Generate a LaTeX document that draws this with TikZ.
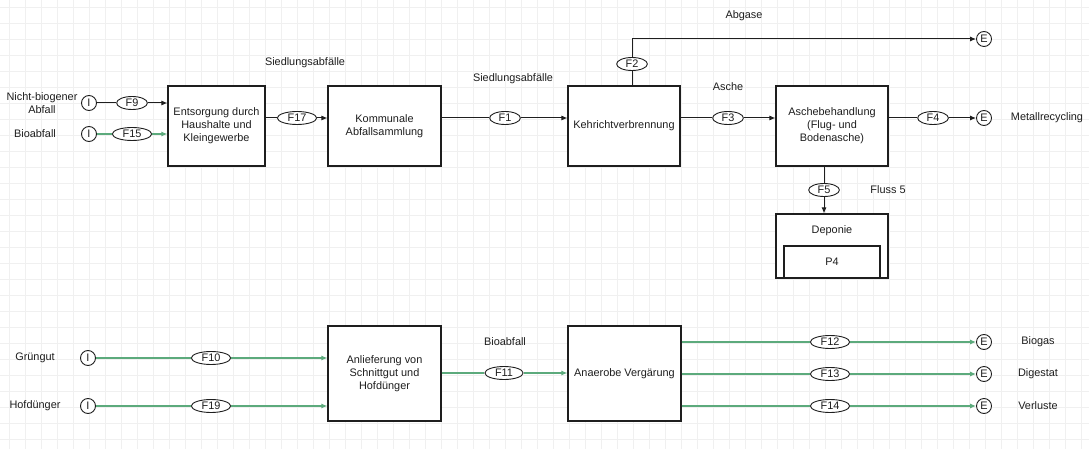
\documentclass[tikz,border=0pt]{standalone}
\usepackage{fontspec}
\setmainfont{Liberation Sans}
\usetikzlibrary{arrows.meta,shapes.geometric}
\definecolor{gridc}{RGB}{240,240,240}
\definecolor{flowg}{RGB}{92,170,124}
\definecolor{ink}{RGB}{30,30,30}
\begin{document}
\begin{tikzpicture}[x=1pt,y=-1pt,
  font=\fontsize{10.9}{13}\selectfont,
  proc/.style={draw=ink, line width=1.1pt, fill=white, align=center, inner sep=0pt, text=ink},
  flowtag/.style={ellipse, draw=ink, line width=0.9pt, fill=white, inner xsep=4.5pt, inner ysep=0.5pt, minimum height=13pt, text=ink},
  port/.style={circle, draw=ink, line width=0.9pt, fill=white, minimum size=15pt, inner sep=0pt, text=ink},
  lbl/.style={align=center, text=ink, inner sep=0pt},
  conn/.style={draw=ink, line width=1pt},
  bio/.style={draw=flowg, line width=1.2pt},
  tip/.style={-{Latex[length=6pt,width=5pt]}}]

% canvas and background grid
\fill[white] (0,0) rectangle (1089,449);
\useasboundingbox (0,0) rectangle (1089,449);
\foreach \x in {9,25,...,1089} \draw[gridc, line width=0.7pt] (\x,0) -- (\x,449);
\foreach \y in {7,23,...,449} \draw[gridc, line width=0.7pt] (0,\y) -- (1089,\y);

% processes, upper chain
\node[proc, minimum width=97pt, minimum height=80pt] (ent) at (216.5,126) {Entsorgung durch\\Haushalte und\\Kleingewerbe};
\node[proc, minimum width=113pt, minimum height=80pt] (kom) at (384.5,126) {Kommunale\\Abfallsammlung};
\node[proc, minimum width=112pt, minimum height=80pt] (kvb) at (624,126) {Kehrichtverbrennung};
\node[proc, minimum width=112pt, minimum height=80pt] (asb) at (832,126) {Aschebehandlung\\(Flug- und\\Bodenasche)};
\node[proc, minimum width=112pt, minimum height=64pt] (dep) at (832,246) {};
\node[lbl] (deptitle) at (832,231) {Deponie};
\node[proc, minimum width=96pt, minimum height=32pt] (p4) at (832,262) {P4};

% processes, lower chain
\node[proc, minimum width=113pt, minimum height=95pt] (anl) at (384.5,373.5) {Anlieferung von\\Schnittgut und\\Hofdünger};
\node[proc, minimum width=113pt, minimum height=95pt] (ana) at (624.5,373.5) {Anaerobe Vergärung};

% imports and exports
\node[port] (i9) at (89,103) {I};
\node[port] (i15) at (89,134) {I};
\node[port] (i10) at (88,358) {I};
\node[port] (i19) at (88,406) {I};
\node[port] (e2) at (984,39) {E};
\node[port] (e4) at (984,118) {E};
\node[port] (e12) at (984,342) {E};
\node[port] (e13) at (984,374) {E};
\node[port] (e14) at (984,406) {E};

% flow tags
\node[flowtag] (f9) at (132,103) {F9};
\node[flowtag] (f15) at (132,134) {F15};
\node[flowtag] (f17) at (297,118) {F17};
\node[flowtag] (f1) at (505,118) {F1};
\node[flowtag] (f2) at (632,64) {F2};
\node[flowtag] (f3) at (728,118) {F3};
\node[flowtag] (f4) at (933,118) {F4};
\node[flowtag] (f5) at (824,190) {F5};
\node[flowtag] (f10) at (211,358) {F10};
\node[flowtag] (f19) at (211,406) {F19};
\node[flowtag] (f11) at (504,373) {F11};
\node[flowtag] (f12) at (830,342) {F12};
\node[flowtag] (f13) at (830,374) {F13};
\node[flowtag] (f14) at (830,406) {F14};

% free labels
\node[lbl] (lnb) at (42,103) {Nicht-biogener\\Abfall};
\node[lbl] (lba) at (35,134) {Bioabfall};
\node[lbl] (ls1) at (305,63) {Siedlungsabfälle};
\node[lbl] (ls2) at (513,79) {Siedlungsabfälle};
\node[lbl] (lab) at (744,16) {Abgase};
\node[lbl] (las) at (728,87) {Asche};
\node[lbl] (lmr) at (1047,118) {Metallrecycling};
\node[lbl] (lfl) at (888,190) {Fluss 5};
\node[lbl] (lgr) at (35,358) {Grüngut};
\node[lbl] (lhd) at (35,406) {Hofdünger};
\node[lbl] (lbb) at (505,342) {Bioabfall};
\node[lbl] (lbg) at (1038,342) {Biogas};
\node[lbl] (ldg) at (1038,374) {Digestat};
\node[lbl] (lvl) at (1038,406) {Verluste};

% connectors, upper chain
\draw[conn] (i9) -- (f9);
\draw[conn,tip] (f9) -- (f9 -| ent.west);
\draw[bio] (i15) -- (f15);
\draw[bio,tip] (f15) -- (f15 -| ent.west);
\draw[conn] (f17 -| ent.east) -- (f17);
\draw[conn,tip] (f17) -- (f17 -| kom.west);
\draw[conn] (f1 -| kom.east) -- (f1);
\draw[conn,tip] (f1) -- (f1 -| kvb.west);
\draw[conn] (f2 |- kvb.north) -- (f2);
\draw[conn,tip] (f2) |- (e2);
\draw[conn] (f3 -| kvb.east) -- (f3);
\draw[conn,tip] (f3) -- (f3 -| asb.west);
\draw[conn] (f4 -| asb.east) -- (f4);
\draw[conn,tip] (f4) -- (e4);
\draw[conn] (f5 |- asb.south) -- (f5);
\draw[conn,tip] (f5) -- (f5 |- dep.north);

% connectors, lower chain
\draw[bio] (i10) -- (f10);
\draw[bio,tip] (f10) -- (f10 -| anl.west);
\draw[bio] (i19) -- (f19);
\draw[bio,tip] (f19) -- (f19 -| anl.west);
\draw[bio] (f11 -| anl.east) -- (f11);
\draw[bio,tip] (f11) -- (f11 -| ana.west);
\draw[bio] (f12 -| ana.east) -- (f12);
\draw[bio,tip] (f12) -- (e12);
\draw[bio] (f13 -| ana.east) -- (f13);
\draw[bio,tip] (f13) -- (e13);
\draw[bio] (f14 -| ana.east) -- (f14);
\draw[bio,tip] (f14) -- (e14);
\end{tikzpicture}
\end{document}
